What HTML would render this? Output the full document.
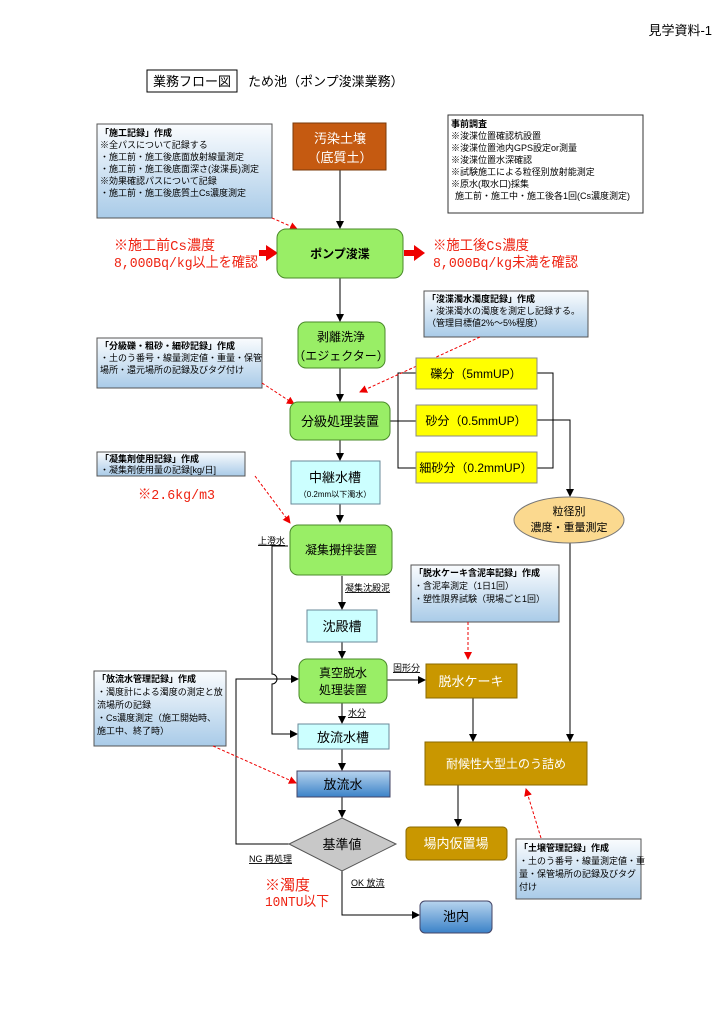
<!DOCTYPE html>
<html><head><meta charset="utf-8"><style>
html,body{margin:0;padding:0;background:#fff;}
svg{display:block;font-family:"Liberation Sans","Noto Sans CJK JP",sans-serif;}
</style></head><body>
<svg width="724" height="1024" viewBox="0 0 724 1024" xmlns="http://www.w3.org/2000/svg">
<defs>
<linearGradient id="nb" x1="0" y1="0" x2="0" y2="1"><stop offset="0" stop-color="#fafcfe"/><stop offset="1" stop-color="#a9cbe8"/></linearGradient>
<linearGradient id="bl" x1="0" y1="0" x2="0" y2="1"><stop offset="0" stop-color="#b8d4ee"/><stop offset="1" stop-color="#3b82c8"/></linearGradient>
<marker id="a" markerWidth="8" markerHeight="8" refX="7" refY="4" orient="auto" markerUnits="userSpaceOnUse"><path d="M0,0 L8,4 L0,8 z" fill="#000"/></marker>
<marker id="r" markerWidth="8" markerHeight="8" refX="7" refY="4" orient="auto" markerUnits="userSpaceOnUse"><path d="M0,0 L8,4 L0,8 z" fill="#e00"/></marker>
</defs>
<g font-size="13">
<text x="712" y="35" text-anchor="end" font-size="13">見学資料-1</text>
<rect x="147" y="70" width="90" height="22" fill="none" stroke="#000"/>
<text x="192" y="86" text-anchor="middle">業務フロー図</text>
<text x="248" y="86">ため池（ポンプ浚渫業務）</text>
</g>

<!-- notes -->
<g font-size="9" fill="#000">
<rect x="97" y="124" width="175" height="94" fill="url(#nb)" stroke="#555"/>
<text x="100" y="136"><tspan font-weight="bold">「施工記録」作成</tspan><tspan x="100" dy="12">※全パスについて記録する</tspan><tspan x="100" dy="12">・施工前・施工後底面放射線量測定</tspan><tspan x="100" dy="12">・施工前・施工後底面深さ(浚渫長)測定</tspan><tspan x="100" dy="12">※効果確認パスについて記録</tspan><tspan x="100" dy="12">・施工前・施工後底質土Cs濃度測定</tspan></text>

<rect x="448" y="115" width="195" height="98" fill="#fff" stroke="#333"/>
<text x="451" y="127"><tspan font-weight="bold">事前調査</tspan><tspan x="451" dy="12">※浚渫位置確認杭設置</tspan><tspan x="451" dy="12">※浚渫位置池内GPS設定or測量</tspan><tspan x="451" dy="12">※浚渫位置水深確認</tspan><tspan x="451" dy="12">※試験施工による粒径別放射能測定</tspan><tspan x="451" dy="12">※原水(取水口)採集</tspan><tspan x="455" dy="12">施工前・施工中・施工後各1回(Cs濃度測定)</tspan></text>

<rect x="424" y="291" width="164" height="46" fill="url(#nb)" stroke="#555"/>
<text x="427" y="302"><tspan font-weight="bold">「浚渫濁水濁度記録」作成</tspan><tspan x="427" dy="12">・浚渫濁水の濁度を測定し記録する。</tspan><tspan x="427" dy="12">（管理目標値2%～5%程度）</tspan></text>

<rect x="97" y="338" width="165" height="50" fill="url(#nb)" stroke="#555"/>
<text x="100" y="349"><tspan font-weight="bold">「分級礫・粗砂・細砂記録」作成</tspan><tspan x="100" dy="12">・土のう番号・線量測定値・重量・保管</tspan><tspan x="100" dy="12">場所・還元場所の記録及びタグ付け</tspan></text>

<rect x="97" y="452" width="148" height="24" fill="url(#nb)" stroke="#555"/>
<text x="100" y="462"><tspan font-weight="bold">「凝集剤使用記録」作成</tspan><tspan x="100" dy="11">・凝集剤使用量の記録[kg/日]</tspan></text>

<rect x="411" y="565" width="148" height="57" fill="url(#nb)" stroke="#555"/>
<text x="414" y="576"><tspan font-weight="bold">「脱水ケーキ含泥率記録」作成</tspan><tspan x="414" dy="13">・含泥率測定（1日1回）</tspan><tspan x="414" dy="13">・塑性限界試験（現場ごと1回）</tspan></text>

<rect x="94" y="671" width="132" height="75" fill="url(#nb)" stroke="#555"/>
<text x="97" y="682"><tspan font-weight="bold">「放流水管理記録」作成</tspan><tspan x="97" dy="13">・濁度計による濁度の測定と放</tspan><tspan x="97" dy="13">流場所の記録</tspan><tspan x="97" dy="13">・Cs濃度測定（施工開始時、</tspan><tspan x="97" dy="13">施工中、終了時）</tspan></text>

<rect x="516" y="839" width="125" height="60" fill="url(#nb)" stroke="#555"/>
<text x="519" y="851"><tspan font-weight="bold">「土壌管理記録」作成</tspan><tspan x="519" dy="13">・土のう番号・線量測定値・重</tspan><tspan x="519" dy="13">量・保管場所の記録及びタグ</tspan><tspan x="519" dy="13">付け</tspan></text>
</g>

<!-- lines -->
<g stroke="#000" stroke-width="1" fill="none">
<line x1="340" y1="170" x2="340" y2="228" marker-end="url(#a)"/>
<line x1="340" y1="278" x2="340" y2="321" marker-end="url(#a)"/>
<line x1="340" y1="368" x2="340" y2="401" marker-end="url(#a)"/>
<line x1="340" y1="440" x2="340" y2="460" marker-end="url(#a)"/>
<line x1="340" y1="504" x2="340" y2="522" marker-end="url(#a)"/>
<line x1="342" y1="576" x2="342" y2="609" marker-end="url(#a)"/>
<line x1="342" y1="642" x2="342" y2="658" marker-end="url(#a)"/>
<line x1="342" y1="703" x2="342" y2="723" marker-end="url(#a)"/>
<line x1="342" y1="749" x2="342" y2="770" marker-end="url(#a)"/>
<line x1="342" y1="797" x2="342" y2="817" marker-end="url(#a)"/>
<polyline points="342,871 342,915 419,915" marker-end="url(#a)"/>
<polyline points="289,844 236,844 236,679 298,679" marker-end="url(#a)" fill="none"/>
<path d="M288,546 L272,546 L272,674 A5,5 0 0 1 272,684 L272,734 L297,734" marker-end="url(#a)"/>
<line x1="387" y1="680" x2="425" y2="680" marker-end="url(#a)"/>
<line x1="390" y1="421" x2="416" y2="421"/>
<polyline points="416,373 398,373 398,468 416,468"/>
<polyline points="537,373 553,373 553,468 537,468"/>
<polyline points="537,420 570,420 570,496" marker-end="url(#a)"/>
<line x1="570" y1="543" x2="570" y2="741" marker-end="url(#a)"/>
<line x1="473" y1="698" x2="473" y2="741" marker-end="url(#a)"/>
<line x1="458" y1="785" x2="458" y2="826" marker-end="url(#a)"/>
</g>
<!-- red dashed -->
<g stroke="#e00" stroke-width="1" stroke-dasharray="3,2" fill="none">
<line x1="272" y1="218" x2="297" y2="229" marker-end="url(#r)"/>
<line x1="480" y1="337" x2="360" y2="392" marker-end="url(#r)"/>
<line x1="262" y1="383" x2="294" y2="404" marker-end="url(#r)"/>
<line x1="255" y1="476" x2="290" y2="523" marker-end="url(#r)"/>
<line x1="468" y1="622" x2="468" y2="659" marker-end="url(#r)"/>
<line x1="213" y1="746" x2="296" y2="783" marker-end="url(#r)"/>
<line x1="541" y1="838" x2="526" y2="789" marker-end="url(#r)"/>
</g>
<!-- red big arrows -->
<g fill="#e00">
<path d="M259,250 L266,250 L266,245 L278,253 L266,261 L266,256 L259,256 z"/>
<path d="M404,250 L414,250 L414,245 L425,253 L414,261 L414,256 L404,256 z"/>
</g>
<g fill="#e21" font-family="'Liberation Mono','Noto Sans CJK JP',monospace" font-size="14">
<text x="114" y="250" textLength="101" lengthAdjust="spacingAndGlyphs">※施工前Cs濃度</text>
<text x="114" y="267" textLength="144" lengthAdjust="spacingAndGlyphs">8,000Bq/kg以上を確認</text>
<text x="433" y="250" textLength="96" lengthAdjust="spacingAndGlyphs">※施工後Cs濃度</text>
<text x="433" y="267" textLength="145" lengthAdjust="spacingAndGlyphs">8,000Bq/kg未満を確認</text>
<text x="138" y="499" textLength="77" lengthAdjust="spacingAndGlyphs">※2.6kg/m3</text>
<text x="265" y="890" font-size="15">※濁度</text>
<text x="265" y="906" textLength="64" lengthAdjust="spacingAndGlyphs">10NTU以下</text>
</g>

<!-- nodes -->
<g font-size="13" text-anchor="middle">
<rect x="293" y="123" width="93" height="47" fill="#c55a11" stroke="#7a3a0a"/>
<text x="340" y="143" fill="#fff">汚染土壌</text><text x="340" y="162" fill="#fff">（底質土）</text>

<rect x="277" y="229" width="126" height="49" rx="9" fill="#99ee66" stroke="#4a8a2a"/>
<text x="340" y="258" font-weight="bold" font-size="12">ポンプ浚渫</text>

<rect x="298" y="322" width="87" height="46" rx="8" fill="#99ee66" stroke="#4a8a2a"/>
<text x="341" y="341" font-size="12">剥離洗浄</text><text x="341" y="360" font-size="12">（エジェクター）</text>

<rect x="290" y="402" width="100" height="38" rx="8" fill="#99ee66" stroke="#4a8a2a"/>
<text x="340" y="426">分級処理装置</text>

<rect x="416" y="358" width="121" height="31" fill="#ffff00" stroke="#888"/>
<text x="476" y="378" font-size="12">礫分（5mmUP）</text>
<rect x="416" y="405" width="121" height="31" fill="#ffff00" stroke="#888"/>
<text x="476" y="425" font-size="12">砂分（0.5mmUP）</text>
<rect x="416" y="452" width="121" height="31" fill="#ffff00" stroke="#888"/>
<text x="476" y="472" font-size="12">細砂分（0.2mmUP）</text>

<ellipse cx="569" cy="520" rx="55" ry="23" fill="#fbd98f" stroke="#777"/>
<text x="569" y="515" font-size="11">粒径別</text><text x="569" y="531" font-size="11">濃度・重量測定</text>

<rect x="291" y="461" width="89" height="43" fill="#ccffff" stroke="#6a8a9a"/>
<text x="335" y="482">中継水槽</text><text x="335" y="497" font-size="8">（0.2mm以下濁水）</text>

<rect x="290" y="525" width="102" height="50" rx="8" fill="#99ee66" stroke="#4a8a2a"/>
<text x="341" y="554" font-size="12">凝集攪拌装置</text>

<rect x="307" y="610" width="70" height="32" fill="#ccffff" stroke="#6a8a9a"/>
<text x="342" y="631">沈殿槽</text>

<rect x="299" y="659" width="88" height="44" rx="8" fill="#99ee66" stroke="#4a8a2a"/>
<text x="343" y="677" font-size="12">真空脱水</text><text x="343" y="694" font-size="12">処理装置</text>

<rect x="426" y="664" width="91" height="34" fill="#c99700" stroke="#8a6a00"/>
<text x="471" y="686" fill="#fff">脱水ケーキ</text>

<rect x="298" y="724" width="91" height="25" fill="#ccffff" stroke="#6a8a9a"/>
<text x="343" y="742">放流水槽</text>

<rect x="297" y="771" width="93" height="26" fill="url(#bl)" stroke="#446"/>
<text x="343" y="789">放流水</text>

<polygon points="342,818 396,844 342,871 289,844" fill="#c8c8c8" stroke="#555"/>
<text x="342" y="849">基準値</text>

<rect x="420" y="901" width="72" height="32" rx="5" fill="url(#bl)" stroke="#446"/>
<text x="456" y="921">池内</text>

<rect x="425" y="742" width="162" height="43" fill="#c99700" stroke="#8a6a00"/>
<text x="506" y="768" fill="#fff" font-size="12">耐候性大型土のう詰め</text>

<rect x="406" y="827" width="101" height="33" rx="4" fill="#c99700" stroke="#8a6a00"/>
<text x="456" y="848" fill="#fff">場内仮置場</text>
</g>

<!-- small labels -->
<g font-size="9" text-decoration="underline">
<text x="258" y="544">上澄水</text>
<text x="345" y="591">凝集沈殿泥</text>
<text x="393" y="671">固形分</text>
<text x="348" y="716">水分</text>
<text x="249" y="862">NG 再処理</text>
<text x="351" y="886">OK 放流</text>
</g>
</svg>
</body></html>
